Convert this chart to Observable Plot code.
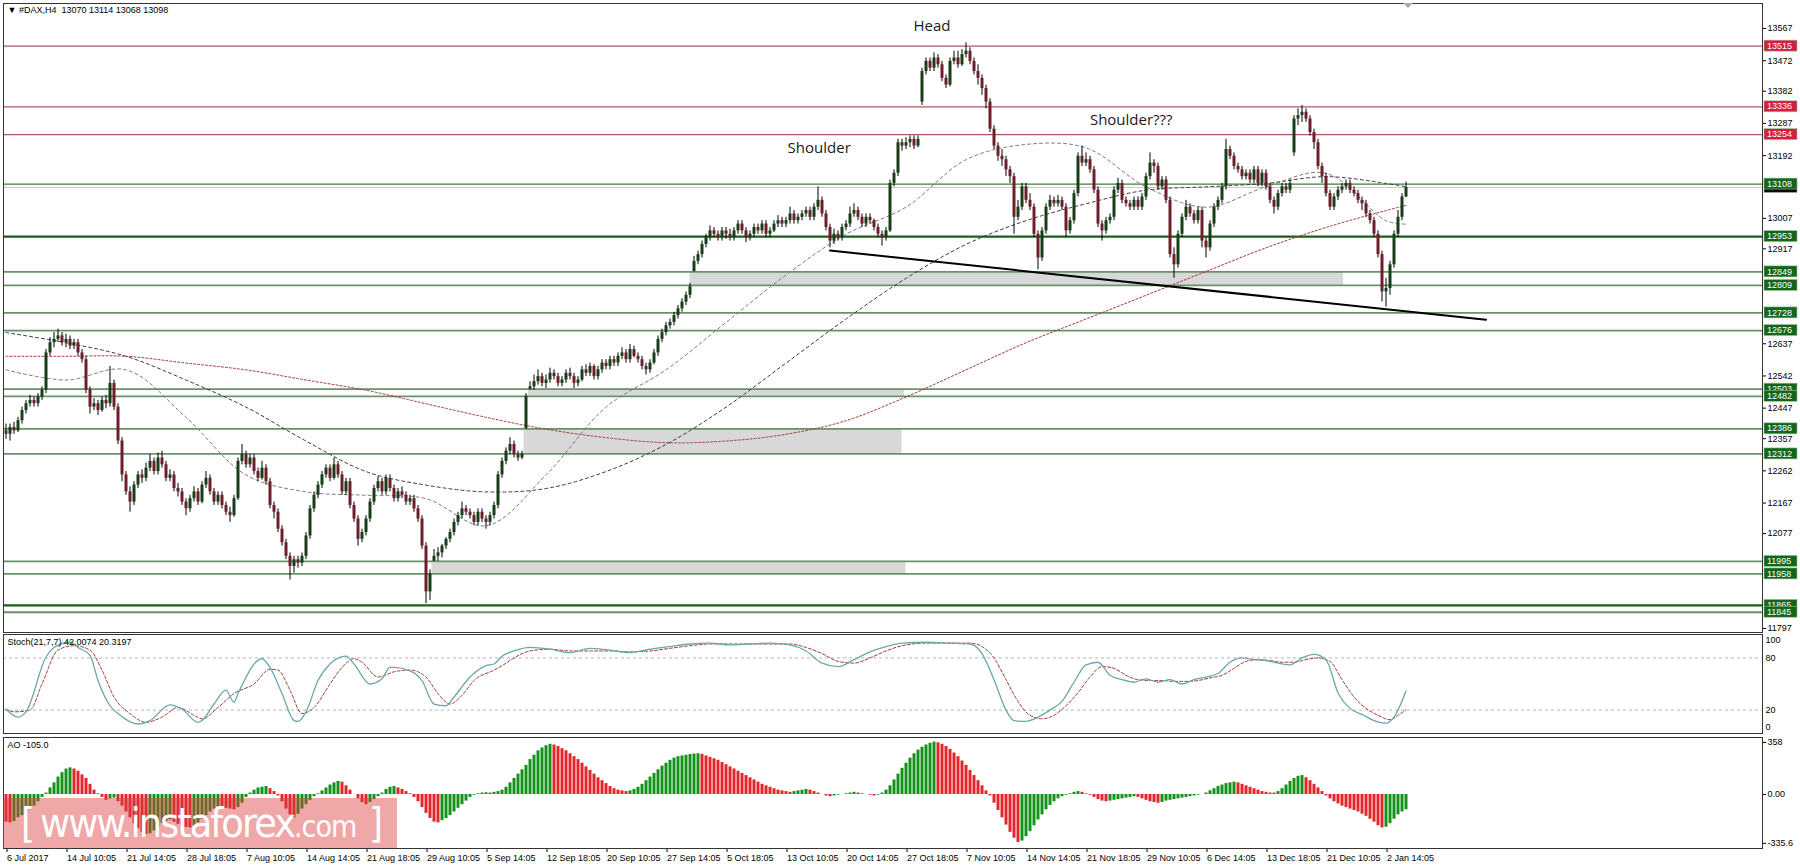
<!DOCTYPE html>
<html><head><meta charset="utf-8">
<script src="https://cdn.jsdelivr.net/npm/d3@7"></script>
<script src="https://cdn.jsdelivr.net/npm/@observablehq/plot@0.6"></script>
<style>
html,body{margin:0;padding:0;background:#fff;}
#wrap{position:relative;width:1800px;height:868px;overflow:hidden;font-family:"Liberation Sans",Arial,sans-serif;}
.panel{position:absolute;left:0;}
#wm{position:absolute;left:3px;top:798px;}
#shift{position:absolute;left:1403px;top:3px;width:0;height:0;border-left:5px solid transparent;border-right:5px solid transparent;border-top:5px solid #aaa;}
</style></head><body>
<div id="wrap"></div>
<script>
// ---------- price data (H4 bars) ----------
const opens = [
12380,12370,12390,12380,12410,12440,12460,12470,12460,12480,12500,12610,12640,12650,12660,
12640,12650,12630,12640,12610,12590,12500,12450,12460,12440,12470,12460,12520,12450,12350,
12250,12200,12170,12220,12250,12240,12270,12290,12260,12300,12280,12240,12250,12210,12200,
12170,12150,12180,12200,12170,12220,12240,12200,12170,12190,12160,12140,12130,12180,12290,
12310,12280,12300,12260,12240,12270,12230,12160,12140,12090,12050,12010,11980,12000,11990,
12010,12070,12150,12190,12220,12250,12270,12240,12280,12250,12200,12230,12160,12120,12060,
12080,12120,12170,12210,12230,12200,12240,12210,12180,12200,12190,12170,12180,12150,12120,
12040,11905,11995,12010,12020,12040,12060,12080,12110,12130,12150,12140,12130,12110,12140,
12120,12110,12130,12160,12250,12290,12320,12340,12310,12300,12386,12503,12510,12525,12540,
12520,12530,12550,12540,12520,12530,12550,12540,12520,12530,12560,12550,12570,12540,12560,
12580,12570,12590,12580,12600,12610,12590,12620,12600,12590,12570,12560,12580,12610,12650,
12670,12690,12700,12720,12740,12760,12780,12850,12880,12900,12930,12950,12970,12960,12950,
12970,12960,12950,12970,12990,12970,12950,12960,12980,12970,12990,12960,12970,12990,13000,
12990,13000,13020,13000,13010,13020,13030,13010,13040,13060,13020,12980,12940,12960,12950,
12980,12990,13020,13030,13010,12990,13010,13000,12980,12960,12950,12970,13110,13140,13230,
13220,13230,13240,13220,13350,13440,13470,13450,13480,13460,13420,13400,13470,13480,13460,
13490,13500,13470,13440,13420,13390,13350,13270,13220,13190,13180,13150,13130,13010,13040,
13100,13060,13040,12960,12890,12970,13040,13060,13050,13060,13040,12970,13000,13080,13190,
13170,13180,13150,13090,12990,12970,13000,13010,13090,13110,13060,13050,13040,13060,13040,
13070,13130,13170,13160,13100,13120,13060,12900,12870,12960,13010,13040,13020,13000,13030,
12940,12920,12990,13040,13060,13100,13210,13190,13160,13150,13130,13140,13120,13150,13110,
13140,13100,13060,13040,13080,13100,13090,13200,13300,13310,13320,13300,13260,13230,13160,
13130,13080,13040,13070,13090,13100,13110,13090,13080,13060,13050,13020,13000,12960,12900,
12790,12800,12870,12960,13010,13070];
const highs = [
12400,12400,12405,12420,12450,12470,12485,12480,12490,12510,12620,12655,12670,12680,12670,
12665,12660,12650,12650,12620,12600,12510,12475,12470,12480,12485,12570,12530,12460,12360,
12260,12215,12230,12260,12265,12285,12310,12300,12315,12320,12290,12265,12260,12225,12210,
12180,12190,12215,12210,12230,12260,12250,12210,12200,12200,12170,12155,12190,12300,12340,
12320,12310,12310,12270,12290,12280,12240,12170,12150,12100,12060,12020,12010,12010,12020,
12080,12160,12200,12230,12260,12280,12280,12300,12290,12260,12240,12240,12170,12130,12090,
12130,12180,12220,12245,12240,12250,12250,12220,12210,12215,12200,12190,12190,12160,12130,
12050,11970,12030,12035,12045,12065,12090,12120,12140,12170,12160,12150,12140,12150,12150,
12130,12140,12170,12260,12300,12330,12360,12350,12320,12320,12490,12525,12545,12560,12550,
12545,12565,12560,12550,12540,12560,12565,12550,12540,12570,12575,12580,12575,12570,12590,
12590,12600,12600,12610,12625,12620,12635,12630,12610,12600,12580,12590,12620,12660,12680,
12700,12710,12730,12750,12770,12790,12815,12895,12910,12940,12960,12985,12980,12970,12980,
12980,12975,12980,13000,13000,12980,12970,12990,12990,13000,13000,12980,13000,13015,13010,
13010,13040,13030,13020,13030,13040,13040,13050,13100,13070,13030,12990,12975,12970,12990,
13000,13040,13050,13040,13020,13020,13020,13005,12990,12970,12980,13120,13150,13240,13240,
13245,13250,13250,13250,13450,13480,13480,13495,13490,13470,13430,13480,13500,13500,13505,
13525,13510,13480,13460,13430,13400,13360,13280,13230,13210,13190,13160,13140,13060,13110,
13110,13080,13050,12970,12980,13050,13075,13070,13075,13070,13050,13010,13090,13200,13220,
13200,13190,13160,13100,13000,13010,13020,13100,13125,13120,13070,13060,13070,13070,13080,
13140,13200,13180,13170,13130,13130,13070,12920,12970,13020,13060,13050,13030,13040,13040,
12950,13000,13050,13070,13110,13240,13220,13200,13170,13160,13150,13150,13160,13160,13150,
13150,13110,13070,13090,13110,13110,13120,13310,13330,13340,13330,13310,13270,13240,13170,
13140,13090,13080,13100,13110,13120,13120,13100,13090,13070,13060,13030,13010,12970,12910,
12830,12880,12970,13030,13080,13114];
const lows = [
12355,12350,12370,12375,12400,12430,12450,12450,12450,12470,12490,12600,12625,12640,12630,
12625,12620,12620,12600,12580,12490,12430,12440,12425,12435,12445,12450,12440,12340,12230,
12190,12140,12160,12210,12225,12230,12260,12250,12250,12270,12230,12230,12200,12185,12160,
12130,12140,12170,12160,12165,12210,12190,12160,12160,12150,12130,12110,12125,12175,12280,
12270,12270,12250,12230,12235,12220,12150,12120,12080,12040,12000,11940,11960,11975,11980,
12000,12060,12140,12180,12210,12240,12230,12235,12240,12190,12190,12150,12110,12040,12050,
12070,12110,12160,12200,12190,12190,12200,12170,12170,12180,12160,12160,12140,12110,12030,
11870,11880,11995,11995,12005,12030,12050,12070,12100,12120,12130,12120,12100,12100,12110,
12090,12100,12120,12150,12240,12280,12310,12300,12290,12295,12386,12500,12500,12515,12510,
12505,12520,12530,12510,12510,12520,12530,12505,12510,12525,12540,12540,12530,12530,12550,
12560,12560,12570,12570,12590,12580,12580,12595,12580,12560,12545,12550,12575,12600,12640,
12660,12680,12690,12710,12730,12750,12770,12849,12870,12890,12920,12940,12950,12940,12940,
12945,12940,12940,12960,12960,12935,12940,12950,12960,12960,12950,12950,12965,12980,12980,
12980,12990,12990,12990,13000,13010,13000,13000,13030,13010,12970,12920,12930,12940,12940,
12970,12980,13010,13000,12980,12980,12990,12970,12950,12925,12940,12965,13100,13130,13205,
13210,13215,13210,13215,13340,13430,13440,13440,13450,13410,13390,13395,13460,13450,13455,
13480,13460,13430,13400,13370,13330,13260,13210,13175,13160,13130,13110,12960,13000,13030,
13050,13030,12950,12855,12880,12960,13030,13040,13040,13030,12950,12960,12990,13070,13160,
13160,13140,13080,12980,12940,12960,12990,13000,13080,13050,13040,13030,13030,13030,13030,
13060,13120,13140,13090,13090,13050,12890,12830,12860,12950,13000,13010,12990,12990,12920,
12890,12910,12980,13030,13050,13090,13180,13150,13140,13120,13120,13110,13110,13100,13100,
13090,13050,13020,13030,13070,13080,13080,13190,13280,13290,13290,13250,13210,13150,13110,
13070,13030,13030,13060,13080,13090,13080,13070,13050,13030,13010,12990,12950,12890,12760,
12745,12780,12860,12950,13000,13068];
const closes = [
12370,12390,12380,12410,12440,12460,12470,12460,12480,12500,12610,12640,12650,12660,12640,
12650,12630,12640,12610,12590,12500,12450,12460,12440,12470,12460,12520,12450,12350,12250,
12200,12170,12220,12250,12240,12270,12290,12260,12300,12280,12240,12250,12210,12200,12170,
12150,12180,12200,12170,12220,12240,12200,12170,12190,12160,12140,12130,12180,12290,12310,
12280,12300,12260,12240,12270,12230,12160,12140,12090,12050,12010,11980,12000,11990,12010,
12070,12150,12190,12220,12250,12270,12240,12280,12250,12200,12230,12160,12120,12060,12080,
12120,12170,12210,12230,12200,12240,12210,12180,12200,12190,12170,12180,12150,12120,12040,
11905,11958,12010,12020,12040,12060,12080,12110,12130,12150,12140,12130,12110,12140,12120,
12110,12130,12160,12250,12290,12320,12340,12310,12300,12312,12482,12510,12525,12540,12520,
12530,12550,12540,12520,12530,12550,12540,12520,12530,12560,12550,12570,12540,12560,12580,
12570,12590,12580,12600,12610,12590,12620,12600,12590,12570,12560,12580,12610,12650,12670,
12690,12700,12720,12740,12760,12780,12805,12880,12900,12930,12950,12970,12960,12950,12970,
12960,12950,12970,12990,12970,12950,12960,12980,12970,12990,12960,12970,12990,13000,12990,
13000,13020,13000,13010,13020,13030,13010,13040,13060,13020,12980,12940,12960,12950,12980,
12990,13020,13030,13010,12990,13010,13000,12980,12960,12950,12970,13110,13140,13230,13220,
13230,13240,13220,13240,13440,13470,13450,13480,13460,13420,13400,13470,13480,13460,13490,
13500,13470,13440,13420,13390,13350,13270,13220,13190,13180,13150,13130,13010,13040,13100,
13060,13040,12960,12890,12970,13040,13060,13050,13060,13040,12970,13000,13080,13190,13170,
13180,13150,13090,12990,12970,13000,13010,13090,13110,13060,13050,13040,13060,13040,13070,
13130,13170,13160,13100,13120,13060,12900,12870,12960,13010,13040,13020,13000,13030,12940,
12920,12990,13040,13060,13100,13210,13190,13160,13150,13130,13140,13120,13150,13110,13140,
13100,13060,13040,13080,13100,13090,13110,13300,13310,13320,13300,13260,13230,13160,13130,
13080,13040,13070,13090,13100,13110,13090,13080,13060,13050,13020,13000,12960,12900,12790,
12800,12870,12960,13010,13070,13098];

// ---------- moving averages (read at every 15th bar) ----------
const maBars = [0,15,30,45,60,75,90,105,120,135,150,165,180,195,210,225,240,255,270,285,300,315,330,345,350];
const maFast = [12560,12530,12560,12420,12250,12200,12190,12180,12100,12250,12450,12560,12700,12840,12960,13040,13180,13225,13215,13100,13040,13100,13140,13000,12990];
const maMed  = [12670,12640,12600,12530,12450,12350,12260,12220,12200,12210,12260,12340,12450,12580,12710,12830,12930,13000,13050,13090,13100,13110,13130,13110,13100];
const maSlow = [12600,12600,12600,12580,12560,12530,12500,12460,12420,12385,12360,12345,12350,12370,12410,12480,12560,12640,12710,12780,12850,12920,12980,13030,13045];

// ---------- horizontal levels ----------
const levelVals = [13515,13336,13254,13108,12953,12849,12809,12728,12676,12503,12482,12386,12312,11995,11958,11865,11845];
const levelKind = ["r","r","r","m","G","g","g","g","g","g","g","g","g","g","g","G","g"];
const bidPrice = 13098;

// ---------- gray zones ----------
const zoneFrom = [171, 130.6, 129.5, 106.5];
const zoneTo   = [334.4, 224.6, 224, 225];
const zoneLo   = [12809, 12482, 12312, 11958];
const zoneHi   = [12849, 12503, 12386, 11995];

// ---------- trend line & notes ----------
const trendBars = [206, 370];
const trendVals = [12912, 12708];
const noteText = ["Head", "Shoulder", "Shoulder???"];
const noteBar = [231.5, 203.3, 281.3];
const noteVal = [13574, 13213, 13296];

// ---------- axis ticks ----------
const priceTicks = [13567,13472,13382,13287,13192,13007,12917,12637,12542,12447,12357,12262,12167,12077,11797];
const timeBars = [0,15,30,45,60,75,90,105,120,135,150,165,180,195,210,225,240,255,270,285,300,315,330,345];
const timeLabels = ["6 Jul 2017","14 Jul 10:05","21 Jul 14:05","28 Jul 18:05","7 Aug 10:05","14 Aug 14:05","21 Aug 18:05","29 Aug 10:05","5 Sep 14:05","12 Sep 18:05","20 Sep 10:05","27 Sep 14:05","5 Oct 18:05","13 Oct 10:05","20 Oct 14:05","27 Oct 18:05","7 Nov 10:05","14 Nov 14:05","21 Nov 18:05","29 Nov 10:05","6 Dec 14:05","13 Dec 18:05","21 Dec 10:05","2 Jan 14:05"];

// ---------- stochastic (21,7,7) ----------
const stMainBar = [0,3,5,10,12,16,18,21,23,26,28,33,36,41,44,48,49,52,55,57,58,64,66,69,72,73,75,78,81,85,87,91,94,96,97,101,104,107,110,112,116,120,122,124,127,131,136,141,146,151,156,161,166,171,176,181,186,191,196,200,204,208,212,216,220,224,230,236,241,244,247,250,252,255,258,261,264,267,270,273,276,279,282,285,288,291,294,297,300,303,306,309,312,315,318,321,324,327,330,333,336,339,342,345,347,350];
const stMainVal = [21,12,18,81,92,98,92,83,54,25,16,4,8,26,21,6,8,27,43,29,39,79,69,39,8,7,18,54,73,82,73,50,56,69,69,65,54,27,25,35,58,71,73,82,88,92,90,86,91,89,86,90,93,96,97,95,96,97,95,88,74,70,78,87,93,97,98,97,96,85,55,20,8,7,12,20,30,52,72,75,60,55,52,56,52,55,50,55,58,62,75,80,78,77,74,72,80,84,78,40,22,15,8,5,12,42.0074];
const stSigBar = [0,2,6,9,13,17,21,24,27,31,35,39,43,47,49,53,57,62,66,68,71,74,77,81,84,87,89,93,97,101,105,108,111,114,117,122,124,127,131,136,141,146,151,156,161,166,171,176,181,186,191,196,200,204,208,212,216,220,224,230,236,241,244,247,250,253,256,259,262,265,268,271,274,277,280,283,286,289,292,295,298,301,304,307,310,313,316,319,322,325,328,331,334,337,340,343,346,348,350];
const stSigVal = [21,18,20,50,89,94,89,66,35,16,6,12,23,14,10,23,39,50,67,66,43,16,23,50,69,79,75,58,64,66,58,39,27,37,54,66,71,80,88,90,88,88,88,87,88,91,94,96,96,96,96,96,92,85,76,74,80,88,94,97,97,97,93,80,55,30,14,10,14,25,40,58,70,68,60,55,54,54,53,53,54,57,60,68,76,78,77,75,75,78,80,76,55,35,22,14,9,14,20.3197];

// ---------- Awesome Oscillator ----------
const aoVals = [
-190,-195,-185,-160,-145,-130,-105,-80,-50,-20,10,45,80,120,150,
175,183,175,160,135,110,70,30,5,-20,-40,-30,-25,-50,-80,
-120,-160,-200,-235,-260,-275,-270,-250,-225,-200,-185,-175,-190,-205,-215,
-225,-230,-215,-195,-170,-145,-120,-100,-85,-90,-95,-100,-105,-90,-60,
-20,10,30,45,50,55,40,20,-10,-50,-100,-140,-160,-135,-100,
-70,-40,-15,5,25,45,65,80,90,85,60,30,0,-30,-55,
-70,-55,-35,-15,10,35,50,55,45,35,20,5,-20,-50,-90,
-130,-165,-190,-195,-180,-165,-145,-120,-95,-70,-45,-20,-5,5,10,
12,10,15,20,30,50,80,110,140,170,200,240,270,300,320,
335,345,340,330,315,300,280,260,240,215,190,165,140,115,95,
75,55,40,30,25,20,25,35,50,70,95,120,145,170,195,
215,235,250,260,265,270,275,278,280,275,265,255,245,235,220,
205,190,175,160,145,130,115,100,85,70,60,50,40,30,25,
20,15,20,25,30,35,30,20,10,0,-10,-15,-10,-5,0,
5,10,15,10,5,0,-5,-10,-5,10,30,60,100,140,180,
215,250,280,305,325,340,352,360,355,345,330,310,285,260,230,
200,165,130,95,60,25,-10,-60,-110,-160,-210,-260,-300,-330,-320,
-290,-255,-215,-175,-140,-105,-75,-50,-30,-15,-5,5,15,20,15,
5,-5,-20,-35,-45,-50,-45,-40,-35,-30,-25,-20,-15,-20,-30,
-40,-50,-55,-60,-55,-45,-40,-35,-30,-25,-20,-15,-10,-5,0,
10,25,40,55,65,75,80,85,80,70,60,50,40,30,20,
15,10,10,20,40,65,90,110,125,130,115,95,70,45,20,
-10,-30,-50,-65,-80,-90,-100,-110,-120,-135,-150,-170,-190,-215,-230,
-225,-200,-170,-140,-120,-105];

// ---------- build tables ----------
const n = Math.min(opens.length, highs.length, lows.length, closes.length);
const candles = d3.range(n).map(i => {
  const o = opens[i], c = closes[i];
  const lo = Math.min(o, c), hi = Math.max(o, c);
  return {i, o, c, h: Math.max(highs[i], hi), l: Math.min(lows[i], lo), b1: lo, b2: hi - lo < 3 ? lo + 3 : hi, up: c >= o};
});
const mk = (bars, vals) => bars.map((b, k) => ({i: b, v: vals[k]}));
const fastPts = mk(maBars, maFast), medPts = mk(maBars, maMed), slowPts = mk(maBars, maSlow);
const levelStyle = {r: ["#a4586a", 1.3, "#d41e40"], m: ["#3e7d3e", 1.3, "#13651a"], g: ["#6a916a", 1.8, "#13651a"], G: ["#1c5c1c", 2.2, "#13651a"]};
const levels = levelVals.map((v, k) => ({v, s: levelStyle[levelKind[k]][0], w: levelStyle[levelKind[k]][1], bg: levelStyle[levelKind[k]][2]}));
const zones = zoneFrom.map((f, k) => ({x1: f, x2: zoneTo[k], y1: zoneLo[k], y2: zoneHi[k]}));
const trend = mk(trendBars, trendVals);
const notes = noteText.map((t, k) => ({t, i: noteBar[k], v: noteVal[k]}));
const stMain = mk(stMainBar, stMainVal), stSig = mk(stSigBar, stSigVal);
const ao = aoVals.map((v, i) => ({i, v, up: i === 0 ? false : v > aoVals[i - 1]}));

const xDom = [-0.625, 439.125];
const font = "Liberation Sans, Arial, sans-serif";
const baseStyle = {fontFamily: font, fontSize: "9px", background: "transparent", overflow: "visible", color: "#000"};
const W = 1800, ML = 3, MR = 38;

// ---------- main price panel ----------
const main = Plot.plot({
  width: W, height: 634, marginLeft: ML, marginRight: MR, marginTop: 3, marginBottom: 2,
  x: {domain: xDom, axis: null},
  y: {domain: [11785.2, 13640.75]},
  style: baseStyle,
  marks: [
    Plot.rect(zones, {x1: "x1", x2: "x2", y1: "y1", y2: "y2", fill: "#d8d8d8"}),
    Plot.ruleY(levels, {y: "v", stroke: "s", strokeWidth: "w"}),
    Plot.ruleY([bidPrice], {stroke: "#c8c8c8", strokeWidth: 1}),
    Plot.line(slowPts, {x: "i", y: "v", stroke: "#a33a3a", strokeWidth: 1, strokeDasharray: "2,2", curve: "catmull-rom"}),
    Plot.line(medPts, {x: "i", y: "v", stroke: "#3a3a3a", strokeWidth: 1, strokeDasharray: "3,3", curve: "catmull-rom"}),
    Plot.line(fastPts, {x: "i", y: "v", stroke: "#7a7a7a", strokeWidth: 1, strokeDasharray: "3,3", curve: "catmull-rom"}),
    Plot.ruleX(candles, {x: "i", y1: "l", y2: "h", stroke: "#000", strokeWidth: 1}),
    Plot.ruleX(candles.filter(d => d.up), {x: "i", y1: "b1", y2: "b2", stroke: "#173f17", strokeWidth: 3}),
    Plot.ruleX(candles.filter(d => !d.up), {x: "i", y1: "b1", y2: "b2", stroke: "#6e1e2a", strokeWidth: 3}),
    Plot.line(trend, {x: "i", y: "v", stroke: "#000", strokeWidth: 2}),
    Plot.text(notes, {x: "i", y: "v", text: "t", fontSize: 15, fontFamily: "Open Sans, sans-serif", fill: "#1a1a1a"}),
    Plot.axisY({anchor: "right", label: null, ticks: priceTicks, tickFormat: d => String(d), tickSize: 3, tickPadding: 2, fontSize: 9}),
    Plot.text(["\u25BC #DAX,H4\u00a0\u00a013070 13114 13068 13098"], {frameAnchor: "top-left", dx: 4, dy: 3, fontSize: 9, fill: "#000"}),
    Plot.frame({stroke: "#333"})
  ]
});

// right-hand price boxes (positioned with the plot's y scale)
{
  const ys = main.scale("y");
  const g = d3.select(main).append("g").attr("font-family", font).attr("font-size", 9).attr("text-anchor", "start");
  const box = (v, bg, fg, withText) => {
    const y = ys.apply(v);
    g.append("rect").attr("x", 1764).attr("y", y - 5.5).attr("width", 33).attr("height", 11).attr("fill", bg).attr("stroke", "#9cc09c").attr("stroke-width", 0.6);
    if (withText) g.append("text").attr("x", 1767).attr("y", y).attr("dy", "0.35em").attr("fill", fg).text(v);
  };
  box(bidPrice, "#000", "#fff", false);
  levels.forEach(d => box(d.v, d.bg, "#fff", true));
}

// ---------- stochastic panel ----------
const stoch = Plot.plot({
  width: W, height: 100, marginLeft: ML, marginRight: MR, marginTop: 0, marginBottom: 1,
  x: {domain: xDom, axis: null},
  y: {domain: [-6.9, 106.9]},
  style: baseStyle,
  marks: [
    Plot.ruleY([80, 20], {stroke: "#b4b4b4", strokeDasharray: "3,3"}),
    Plot.line(stSig, {x: "i", y: "v", stroke: "#a23a3a", strokeWidth: 1, strokeDasharray: "3,2", curve: "monotone-x"}),
    Plot.line(stMain, {x: "i", y: "v", stroke: "#6aa8ae", strokeWidth: 1.3, curve: "monotone-x"}),
    Plot.axisY({anchor: "right", label: null, ticks: [100, 80, 20, 0], tickSize: 0, tickPadding: 3, fontSize: 9}),
    Plot.text(["Stoch(21,7,7) 42.0074 20.3197"], {frameAnchor: "top-left", dx: 4, dy: 4, fontSize: 9, fill: "#000"}),
    Plot.frame({stroke: "#333"})
  ]
});

// ---------- AO panel + time axis ----------
const aoPlot = Plot.plot({
  width: W, height: 132, marginLeft: ML, marginRight: MR, marginTop: 1, marginBottom: 20,
  x: {domain: xDom},
  y: {domain: [-371, 391.6]},
  style: baseStyle,
  marks: [
    Plot.ruleX(ao.filter(d => d.up), {x: "i", y1: 0, y2: "v", stroke: "#14921a", strokeWidth: 3}),
    Plot.ruleX(ao.filter(d => !d.up), {x: "i", y1: 0, y2: "v", stroke: "#e3262b", strokeWidth: 3}),
    Plot.axisY({anchor: "right", label: null, ticks: [358, 0, -335.6], tickFormat: d => d === 0 ? "0.00" : String(d), tickSize: 3, tickPadding: 2, fontSize: 9}),
    Plot.axisX({anchor: "bottom", label: null, ticks: timeBars, tickFormat: d => timeLabels[timeBars.indexOf(d)], tickSize: 4, tickPadding: 2, textAnchor: "start", dx: 1, fontSize: 9}),
    Plot.text(["AO -105.0"], {frameAnchor: "top-left", dx: 4, dy: 4, fontSize: 9, fill: "#000"}),
    Plot.frame({stroke: "#333"})
  ]
});

const wrap = document.getElementById("wrap");
const place = (el, top) => { el.classList.add("panel"); el.style.top = top + "px"; wrap.appendChild(el); };
place(main, 0);
place(stoch, 634);
place(aoPlot, 736);

// watermark overlay (text kept inside its box)
const wm = d3.select(wrap).append("svg").attr("id", "wm").attr("width", 394).attr("height", 50)
  .attr("font-family", "DejaVu Sans Condensed, DejaVu Sans, sans-serif").attr("font-weight", 200).attr("fill", "#fff").attr("text-anchor", "start");
wm.append("rect").attr("width", 394).attr("height", 50).attr("fill", "rgba(220,60,60,0.45)");
wm.append("text").attr("x", 18).attr("y", 39).attr("font-size", 40).text("[");
const wt = wm.append("text").attr("x", 37).attr("y", 39).attr("font-size", 41).attr("letter-spacing", -2);
wt.append("tspan").text("www.instaforex");
wt.append("tspan").attr("font-size", 30).attr("letter-spacing", -1).text(".com");
wm.append("text").attr("x", 366).attr("y", 39).attr("font-size", 40).text("]");
const sh = document.createElement("div"); sh.id = "shift"; wrap.appendChild(sh);
</script>
</body></html>
